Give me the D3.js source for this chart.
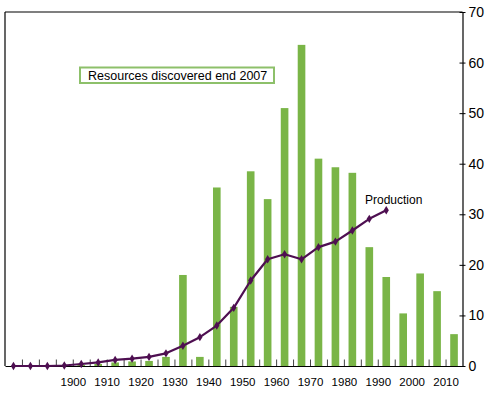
<!DOCTYPE html>
<html><head><meta charset="utf-8">
<script src="https://cdn.jsdelivr.net/npm/d3@7"></script>
<style>
html,body{margin:0;padding:0;background:#fff;}
svg{display:block;font-family:"Liberation Sans",Arial,Helvetica,sans-serif;}
</style></head>
<body><svg id="c" width="489" height="394"></svg>
<script>
// 5-year bins (start year)
const binStarts = [1880,1885,1890,1895,1900,1905,1910,1915,1920,1925,1930,1935,1940,1945,1950,1955,1960,1965,1970,1975,1980,1985,1990,1995,2000,2005,2010];
const discovered = [0,0,0,0,0.2,0.4,0.7,0.9,1.0,1.8,18,1.8,35.3,11.7,38.5,33,51,63.5,41,39.3,38.2,23.5,17.6,10.4,18.3,14.8,6.3];
const productionYears = [1880,1885,1890,1895,1900,1905,1910,1915,1920,1925,1930,1935,1940,1945,1950,1955,1960,1965,1970,1975,1980,1985,1990];
const production = [0,0,0,0.1,0.4,0.7,1.2,1.45,1.8,2.5,4.0,5.7,8.0,11.5,16.9,21.1,22.1,21.1,23.5,24.6,26.8,29.1,30.8];
const yTicks = [0,10,20,30,40,50,60,70];
const xLabelYears = [1900,1910,1920,1930,1940,1950,1960,1970,1980,1990,2000,2010];
const xTickYears = d3.range(1885, 2015, 5);
const legendText = "Resources discovered end 2007";
const productionLabel = "Production";

const L = 5, R = 462.5, T = 12, B = 366;
const svg = d3.select("#c");

const x = d3.scaleLinear().domain([1880, 2015]).range([L, R]);
const band = d3.scaleBand().domain(binStarts).range([L, R]).paddingInner(0.55).paddingOuter(0.275);
const y = d3.scaleLinear().domain([0, 70]).range([B, T]);

const green = "#7ab547", purple = "#4e0f51";

// bars
svg.append("g").selectAll("rect").data(binStarts).join("rect")
  .attr("x", d => band(d))
  .attr("width", band.bandwidth())
  .attr("y", (d,i) => y(discovered[i]))
  .attr("height", (d,i) => B - y(discovered[i]))
  .attr("fill", green);

// frame: top and left
svg.append("line").attr("x1", L).attr("x2", R).attr("y1", T).attr("y2", T).attr("stroke", "#000").attr("stroke-width", 1.2);
svg.append("line").attr("x1", L).attr("x2", L).attr("y1", T).attr("y2", B).attr("stroke", "#000").attr("stroke-width", 1.2);

// bottom ticks (upward)
const xTickAxis = d3.axisBottom(x).tickValues(xTickYears).tickSizeInner(-6.5).tickSizeOuter(0).tickFormat("");
const gxt = svg.append("g").attr("transform", `translate(0,${B})`).call(xTickAxis);
gxt.select(".domain").attr("stroke", "#000").attr("stroke-width", 1.2);
gxt.selectAll(".tick line").attr("stroke", "#444").attr("stroke-width", 1);

// bottom labels
const xLabAxis = d3.axisBottom(x).tickValues(xLabelYears).tickSize(0).tickPadding(12).tickFormat(d3.format("d"));
const gxl = svg.append("g").attr("transform", `translate(0,${B})`).call(xLabAxis);
gxl.select(".domain").remove();
gxl.selectAll("text").attr("font-size", 11.5).attr("fill", "#000").attr("font-family", "'Liberation Sans',Arial,sans-serif");

// right axis
const yAxis = d3.axisRight(y).tickValues(yTicks).tickSizeInner(3).tickSizeOuter(0).tickPadding(3);
const gy = svg.append("g").attr("transform", `translate(${R},0)`).call(yAxis);
gy.select(".domain").attr("stroke", "#000").attr("stroke-width", 1.2);
gy.selectAll(".tick line").attr("stroke", "#000").attr("x1", -3);
gy.selectAll("text").attr("font-size", 14).attr("fill", "#000").attr("font-family", "'Liberation Sans',Arial,sans-serif");

// production line
const line = d3.line().x((d,i) => band(productionYears[i]) + band.bandwidth()/2).y(d => y(d));
svg.append("path").datum(production).attr("d", line)
  .attr("fill", "none").attr("stroke", purple).attr("stroke-width", 2.2).attr("stroke-linejoin", "round");
const diamond = "M0,-4.2L2.6,0L0,4.2L-2.6,0Z";
svg.append("g").selectAll("path").data(production).join("path")
  .attr("transform", (d,i) => `translate(${band(productionYears[i]) + band.bandwidth()/2},${y(d)})`)
  .attr("d", diamond).attr("fill", purple);

// production label
svg.append("text").attr("x", 365).attr("y", 204).attr("font-size", 12).attr("fill", "#000").text(productionLabel);

// legend box
const lg = svg.append("g");
lg.append("rect").attr("x", 80).attr("y", 67.5).attr("width", 194).attr("height", 15.5)
  .attr("fill", "#fff").attr("stroke", "#8dc06a").attr("stroke-width", 2);
lg.append("text").attr("x", 88).attr("y", 79.5).attr("font-size", 12.5).attr("fill", "#000").text(legendText);
</script></body></html>
